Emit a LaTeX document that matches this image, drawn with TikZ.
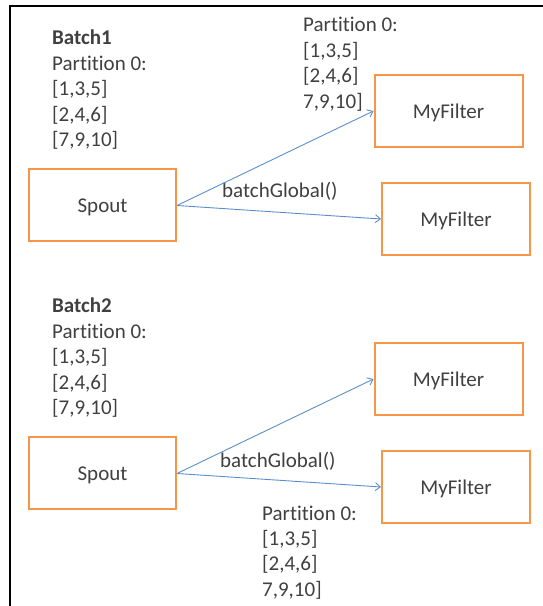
\documentclass[tikz,border=0pt]{standalone}
\usepackage{fontspec}
\setmainfont{Carlito}[Ligatures={NoCommon}]
\usetikzlibrary{arrows.meta}
\definecolor{boxorange}{HTML}{F79646}
\definecolor{arrowblue}{HTML}{5B8FCB}
\definecolor{txt}{HTML}{404040}
\tikzset{
  box/.style={draw=boxorange, line width=2pt, minimum width=147pt, minimum height=72pt, inner sep=0pt, text height=15pt, text depth=0pt, text=txt, font=\fontsize{21}{25.5}\selectfont},
  lbl/.style={anchor=base west, align=left, inner sep=0pt, text=txt, font=\fontsize{21}{25.5}\selectfont},
  conn/.style={draw=arrowblue, line width=0.9pt, -{Straight Barb[length=5pt,width=8pt]}},
}
\begin{document}
\begin{tikzpicture}[x=1pt,y=1pt]
\useasboundingbox (0,0) rectangle (543,606);
\draw[line width=2.6pt] (10,0) -- (10,600) -- (543,600);

% Batch 1
\node[lbl] (b1) at (52,459) {\textbf{Batch1}\\Partition 0:\\{[1,3,5]}\\{[2,4,6]}\\{[7,9,10]}};
\node[box] (s1) at (102.5,400.5) {Spout};
\node[box, minimum width=148pt] (f1) at (448.5,495) {MyFilter};
\node[box, minimum width=148pt] (f2) at (456,387) {MyFilter};
\node[lbl] (p1) at (303,497.5) {Partition 0:\\{[1,3,5]}\\{[2,4,6]}\\7,9,10]};
\node[lbl] (g1) at (222,408) {batchGlobal()};
\draw[conn] (s1.east) -- (f1.west);
\draw[conn] (s1.east) -- (f2.west);

% Batch 2
\node[lbl] (b2) at (52,191) {\textbf{Batch2}\\Partition 0:\\{[1,3,5]}\\{[2,4,6]}\\{[7,9,10]}};
\node[box] (s2) at (102.5,132.5) {Spout};
\node[box, minimum width=148pt] (f3) at (448.5,227) {MyFilter};
\node[box, minimum width=148pt] (f4) at (456,119) {MyFilter};
\node[lbl] (g2) at (220,138) {batchGlobal()};
\node[lbl] (p2) at (262,9.5) {Partition 0:\\{[1,3,5]}\\{[2,4,6]}\\7,9,10]};
\draw[conn] (s2.east) -- (f3.west);
\draw[conn] (s2.east) -- (f4.west);
\end{tikzpicture}
\end{document}
